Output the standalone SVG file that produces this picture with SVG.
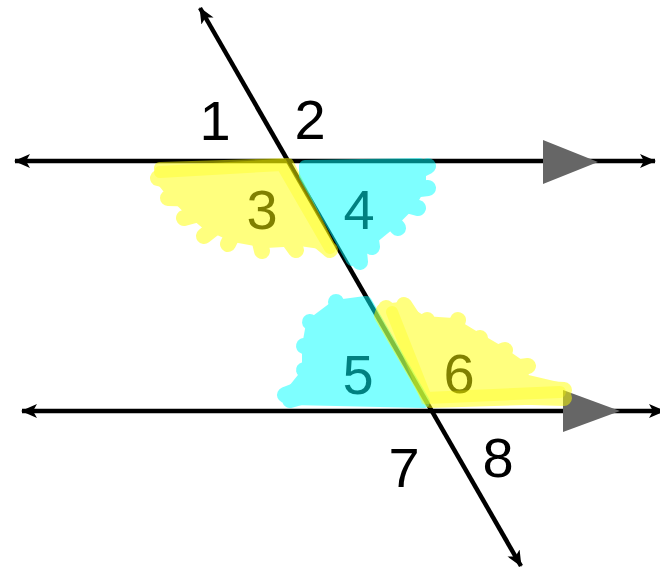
<svg xmlns="http://www.w3.org/2000/svg" width="660" height="571" viewBox="0 0 660 571">
<style>
.ln{stroke:#000;stroke-width:4.5;fill:none}
.lbl{font-family:"Liberation Sans",Arial,sans-serif;font-size:56px;fill:#000;text-anchor:middle}
.par{fill:#666}
.hy{fill:#ffff00;stroke:#ffff00;stroke-width:12;stroke-linejoin:round;stroke-linecap:round}
.hc{fill:#00ffff;stroke:#00ffff;stroke-width:12;stroke-linejoin:round;stroke-linecap:round}
.py{fill:none;stroke:#ffff00;stroke-width:16;stroke-linecap:round}
.pc{fill:none;stroke:#00ffff;stroke-width:16;stroke-linecap:round}
.sy{fill:none;stroke:#ffff00;stroke-width:12;stroke-linecap:round;opacity:0.3}
</style>
<defs>
<marker id="ah" markerUnits="userSpaceOnUse" markerWidth="16" markerHeight="14" refX="15" refY="7" orient="auto-start-reverse" viewBox="0 0 16 14">
<path d="M0,0 L16,7 L0,14 L4,7 Z" fill="#000"/>
</marker>
</defs>
<rect width="660" height="571" fill="#fff"/>
<g id="connectors">
<line id="line-top" class="ln" x1="15" y1="161" x2="655" y2="161" marker-start="url(#ah)" marker-end="url(#ah)"/>
<line id="line-bottom" class="ln" x1="22" y1="411" x2="664" y2="411" marker-start="url(#ah)" marker-end="url(#ah)"/>
<line id="transversal" class="ln" x1="200" y1="8" x2="521" y2="566" marker-start="url(#ah)" marker-end="url(#ah)"/>
<polygon class="par" points="543,140 598,162 543,184"/>
<polygon class="par" points="563,390 620,411 563,432"/>
</g>
<g id="labels">
<text class="lbl" x="215" y="140">1</text>
<text class="lbl" x="310" y="139">2</text>
<text class="lbl" x="262" y="229">3</text>
<text class="lbl" x="359" y="229">4</text>
<text class="lbl" x="358" y="394">5</text>
<text class="lbl" x="459" y="393">6</text>
<text class="lbl" x="404" y="487">7</text>
<text class="lbl" x="498" y="477">8</text>
</g>
<g id="angle3" opacity="0.5">
<path class="hy" d="M160,168 L288,164 L328,244 L300,240 L266,242 L234,236 L207,224 L188,208 L170,190 L162,180 Z"/>
<path class="py" d="M250,200 L158,178 M250,200 L168,198 M250,200 L184,218 M250,200 L204,236 M250,200 L228,244 M250,200 L262,251 M260,200 L296,250 M270,200 L330,250"/>
</g>
<path class="sy" d="M160,172 L282,165 L330,248"/>
<g id="angle4" opacity="0.5">
<path class="hc" d="M305,166 L420,164 L420,186 L410,204 L392,222 L370,240 L358,256 L352,260 L305,176 Z"/>
<path class="pc" d="M370,195 L428,166 M370,195 L428,188 M370,195 L418,208 M370,195 L398,228 M365,200 L372,247 M355,210 L360,262"/>
</g>
<g id="angle5" opacity="0.5">
<path class="hc" d="M336,306 L366,302 L424,402 L292,399 L292,392 L308,372 L308,346 L312,324 Z"/>
<path class="pc" d="M360,360 L336,302 M355,360 L310,322 M355,360 L304,346 M355,360 L304,370 M350,370 L285,395 M360,380 L290,400"/>
</g>
<g id="angle6" opacity="0.5">
<path class="hy" d="M382,310 L401,308 L423,322 L453,324 L476,338 L500,352 L520,366 L524,380 L558,388 L560,398 L430,402 L380,316 Z"/>
<path class="py" d="M440,360 L386,308 M440,360 L404,305 M440,360 L427,320 M445,360 L458,320 M450,365 L480,338 M455,370 L505,350 M460,375 L528,366 M470,385 L564,390 M470,395 L564,398"/>
</g>
<path class="sy" d="M392,312 L426,398 L560,392"/>
</svg>
